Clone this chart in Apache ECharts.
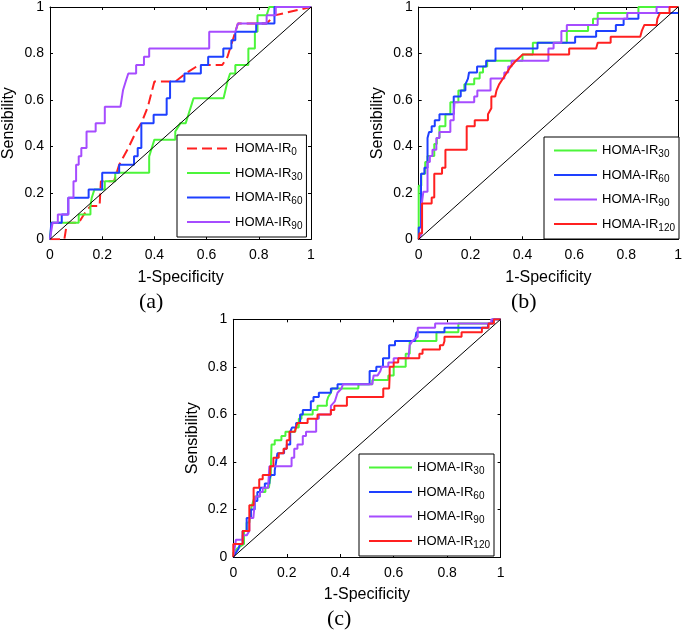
<!DOCTYPE html>
<html style="height: 100%; margin: 0; padding: 0;">
<head>
    <meta charset="utf-8">
    <title>ROC curves HOMA-IR</title>
    <script src="https://cdn.jsdelivr.net/npm/echarts@6/dist/echarts.min.js"></script>
    <style>
        body, html {
            width: 685px;
            height: 630px;
            margin: 0;
            padding: 0;
            overflow: hidden;
            background-color: #ffffff;
        }
        #main {
            width: 685px;
            height: 630px;
        }
    </style>
</head>
<body>
<div id="main"></div>
<script type="text/javascript">
    // axis ticks (both axes, all panels)
    var ticks = [0, 0.2, 0.4, 0.6, 0.8, 1];
    var diagonal = [[0, 0], [1, 1]];

    // panel (a): [1-specificity, sensitivity]
    var rocA0 = [[0,0],[0.055,0],[0.065,0.071],[0.11,0.071],[0.13,0.107],[0.155,0.143],[0.19,0.143],[0.195,0.25],[0.245,0.25],[0.265,0.321],[0.3,0.393],[0.33,0.464],[0.35,0.5],[0.375,0.571],[0.4,0.679],[0.48,0.679],[0.52,0.714],[0.57,0.75],[0.66,0.75],[0.68,0.786],[0.7,0.857],[0.72,0.929],[0.83,0.929],[0.86,0.964],[1,1]];
    var rocA30 = [[0,0],[0.006,0],[0.006,0.071],[0.11,0.071],[0.11,0.107],[0.155,0.107],[0.155,0.143],[0.16,0.179],[0.17,0.214],[0.21,0.214],[0.21,0.25],[0.25,0.25],[0.25,0.286],[0.38,0.286],[0.38,0.357],[0.39,0.393],[0.4,0.429],[0.48,0.429],[0.48,0.464],[0.5,0.5],[0.52,0.5],[0.53,0.536],[0.54,0.571],[0.55,0.607],[0.665,0.607],[0.68,0.679],[0.69,0.714],[0.71,0.714],[0.71,0.75],[0.76,0.75],[0.76,0.821],[0.785,0.821],[0.785,0.893],[0.795,0.893],[0.795,0.964],[0.83,0.964],[0.84,1],[1,1]];
    var rocA60 = [[0,0],[0.005,0],[0.005,0.071],[0.045,0.071],[0.045,0.107],[0.07,0.107],[0.07,0.179],[0.148,0.179],[0.148,0.214],[0.2,0.214],[0.2,0.286],[0.265,0.286],[0.265,0.321],[0.322,0.321],[0.322,0.357],[0.336,0.357],[0.336,0.393],[0.35,0.393],[0.35,0.5],[0.397,0.5],[0.397,0.536],[0.447,0.536],[0.447,0.607],[0.46,0.607],[0.46,0.679],[0.515,0.679],[0.515,0.714],[0.578,0.714],[0.578,0.75],[0.606,0.75],[0.606,0.786],[0.664,0.786],[0.664,0.821],[0.695,0.821],[0.695,0.857],[0.71,0.857],[0.71,0.893],[0.79,0.893],[0.79,0.929],[0.86,0.929],[0.86,1],[1,1]];
    var rocA90 = [[0,0],[0.005,0],[0.005,0.036],[0.01,0.036],[0.01,0.071],[0.03,0.071],[0.03,0.107],[0.07,0.107],[0.07,0.179],[0.09,0.179],[0.09,0.25],[0.1,0.25],[0.1,0.321],[0.11,0.321],[0.11,0.357],[0.12,0.357],[0.12,0.393],[0.14,0.393],[0.14,0.464],[0.175,0.464],[0.175,0.5],[0.21,0.5],[0.21,0.571],[0.27,0.571],[0.28,0.643],[0.29,0.679],[0.3,0.714],[0.33,0.714],[0.33,0.75],[0.36,0.75],[0.36,0.786],[0.38,0.786],[0.38,0.821],[0.61,0.821],[0.61,0.893],[0.71,0.893],[0.72,0.929],[0.83,0.929],[0.83,0.964],[0.865,0.964],[0.865,1],[1,1]];

    // panel (b)
    var rocB30 = [[0,0],[0,0.231],[0.01,0.231],[0.01,0.282],[0.025,0.282],[0.025,0.333],[0.034,0.333],[0.034,0.359],[0.06,0.359],[0.06,0.41],[0.07,0.41],[0.07,0.436],[0.08,0.436],[0.08,0.487],[0.103,0.487],[0.103,0.538],[0.122,0.538],[0.122,0.59],[0.153,0.59],[0.153,0.641],[0.176,0.641],[0.176,0.667],[0.214,0.667],[0.214,0.692],[0.235,0.692],[0.235,0.718],[0.248,0.718],[0.248,0.744],[0.264,0.744],[0.264,0.769],[0.4,0.769],[0.4,0.795],[0.44,0.795],[0.44,0.846],[0.571,0.846],[0.571,0.897],[0.653,0.897],[0.653,0.923],[0.672,0.923],[0.672,0.949],[0.69,0.949],[0.69,0.974],[0.847,0.974],[0.847,1],[1,1]];
    var rocB60 = [[0,0],[0,0.051],[0.009,0.051],[0.009,0.282],[0.022,0.282],[0.022,0.308],[0.034,0.308],[0.034,0.436],[0.04,0.436],[0.04,0.462],[0.05,0.462],[0.05,0.487],[0.062,0.487],[0.062,0.513],[0.08,0.513],[0.08,0.538],[0.135,0.538],[0.135,0.615],[0.162,0.615],[0.162,0.641],[0.18,0.641],[0.18,0.667],[0.19,0.692],[0.194,0.718],[0.225,0.718],[0.225,0.744],[0.26,0.744],[0.26,0.769],[0.296,0.769],[0.296,0.821],[0.458,0.821],[0.458,0.846],[0.603,0.846],[0.603,0.872],[0.684,0.872],[0.684,0.897],[0.76,0.897],[0.76,0.923],[0.79,0.923],[0.79,0.949],[0.847,0.949],[0.847,0.974],[1,0.974]];
    var rocB90 = [[0,0],[0.012,0.026],[0.012,0.154],[0.018,0.154],[0.018,0.205],[0.034,0.205],[0.034,0.333],[0.043,0.333],[0.043,0.359],[0.053,0.359],[0.053,0.385],[0.068,0.385],[0.068,0.436],[0.08,0.436],[0.08,0.462],[0.122,0.462],[0.122,0.513],[0.135,0.513],[0.135,0.538],[0.138,0.538],[0.138,0.59],[0.214,0.59],[0.214,0.615],[0.226,0.615],[0.226,0.641],[0.277,0.641],[0.277,0.692],[0.33,0.692],[0.33,0.718],[0.345,0.718],[0.345,0.744],[0.358,0.744],[0.358,0.769],[0.5,0.769],[0.5,0.821],[0.52,0.821],[0.52,0.846],[0.55,0.846],[0.55,0.897],[0.571,0.897],[0.571,0.923],[0.69,0.923],[0.69,0.949],[0.804,0.949],[0.804,0.974],[0.917,0.974],[0.917,1],[1,1]];
    var rocB120 = [[0,0],[0.003,0],[0.003,0.026],[0.013,0.026],[0.013,0.154],[0.05,0.154],[0.05,0.18],[0.06,0.18],[0.06,0.282],[0.09,0.282],[0.09,0.308],[0.103,0.308],[0.103,0.385],[0.185,0.385],[0.185,0.487],[0.216,0.487],[0.216,0.513],[0.267,0.513],[0.267,0.538],[0.28,0.564],[0.28,0.615],[0.295,0.615],[0.3,0.641],[0.31,0.667],[0.325,0.692],[0.34,0.718],[0.355,0.744],[0.375,0.769],[0.4,0.795],[0.58,0.795],[0.58,0.821],[0.684,0.821],[0.69,0.846],[0.74,0.846],[0.74,0.872],[0.854,0.872],[0.86,0.897],[0.87,0.923],[0.917,0.923],[0.92,0.949],[0.93,0.974],[0.967,0.974],[0.967,1],[1,1]];

    // panel (c)
    var rocC30 = [[0,0],[0,0.018],[0.015,0.036],[0.04,0.055],[0.04,0.109],[0.05,0.109],[0.05,0.145],[0.06,0.145],[0.066,0.2],[0.07,0.218],[0.08,0.255],[0.1,0.255],[0.1,0.273],[0.12,0.273],[0.12,0.291],[0.133,0.291],[0.14,0.345],[0.143,0.345],[0.143,0.473],[0.155,0.473],[0.155,0.491],[0.18,0.491],[0.18,0.509],[0.195,0.509],[0.195,0.527],[0.232,0.527],[0.232,0.545],[0.245,0.545],[0.245,0.582],[0.255,0.582],[0.255,0.6],[0.297,0.6],[0.297,0.618],[0.315,0.618],[0.315,0.636],[0.35,0.636],[0.35,0.655],[0.355,0.673],[0.365,0.691],[0.37,0.709],[0.468,0.709],[0.468,0.727],[0.52,0.727],[0.52,0.745],[0.58,0.745],[0.58,0.764],[0.6,0.764],[0.6,0.8],[0.645,0.8],[0.645,0.855],[0.66,0.855],[0.66,0.909],[0.76,0.909],[0.76,0.945],[0.842,0.945],[0.842,0.982],[0.97,0.982],[0.97,1],[1,1]];
    var rocC60 = [[0,0],[0.01,0.018],[0.02,0.036],[0.025,0.036],[0.025,0.055],[0.035,0.055],[0.035,0.109],[0.05,0.109],[0.05,0.164],[0.066,0.164],[0.066,0.2],[0.08,0.2],[0.08,0.236],[0.09,0.236],[0.09,0.273],[0.1,0.273],[0.1,0.291],[0.118,0.291],[0.118,0.309],[0.135,0.309],[0.135,0.327],[0.14,0.327],[0.14,0.345],[0.155,0.345],[0.155,0.364],[0.16,0.364],[0.16,0.4],[0.165,0.4],[0.165,0.436],[0.19,0.436],[0.19,0.455],[0.2,0.455],[0.2,0.473],[0.213,0.473],[0.213,0.527],[0.22,0.527],[0.22,0.545],[0.235,0.545],[0.235,0.564],[0.25,0.564],[0.25,0.6],[0.26,0.6],[0.26,0.618],[0.29,0.618],[0.29,0.655],[0.3,0.655],[0.3,0.673],[0.32,0.673],[0.32,0.691],[0.365,0.691],[0.365,0.709],[0.39,0.709],[0.39,0.727],[0.51,0.727],[0.51,0.782],[0.535,0.782],[0.535,0.8],[0.56,0.8],[0.56,0.836],[0.583,0.836],[0.583,0.891],[0.605,0.891],[0.605,0.909],[0.68,0.909],[0.685,0.945],[0.79,0.945],[0.79,0.964],[0.953,0.964],[0.953,0.982],[0.97,0.982],[0.97,1],[1,1]];
    var rocC90 = [[0,0],[0.005,0.036],[0.01,0.036],[0.01,0.073],[0.035,0.073],[0.035,0.091],[0.05,0.091],[0.06,0.109],[0.06,0.164],[0.075,0.164],[0.078,0.2],[0.08,0.236],[0.085,0.255],[0.1,0.255],[0.1,0.273],[0.11,0.273],[0.11,0.291],[0.13,0.291],[0.135,0.382],[0.218,0.382],[0.218,0.418],[0.228,0.418],[0.228,0.455],[0.24,0.455],[0.24,0.473],[0.26,0.473],[0.26,0.509],[0.272,0.509],[0.272,0.527],[0.31,0.527],[0.31,0.582],[0.32,0.582],[0.32,0.6],[0.365,0.6],[0.365,0.636],[0.38,0.655],[0.39,0.691],[0.405,0.709],[0.41,0.727],[0.52,0.727],[0.525,0.764],[0.54,0.764],[0.55,0.782],[0.555,0.8],[0.58,0.8],[0.58,0.818],[0.6,0.818],[0.6,0.836],[0.655,0.836],[0.66,0.891],[0.67,0.909],[0.69,0.927],[0.69,0.964],[0.755,0.964],[0.755,0.982],[0.965,0.982],[0.965,1],[1,1]];
    var rocC120 = [[0,0],[0,0.055],[0.035,0.055],[0.035,0.109],[0.06,0.109],[0.06,0.218],[0.076,0.218],[0.076,0.291],[0.097,0.291],[0.097,0.327],[0.11,0.327],[0.11,0.345],[0.138,0.345],[0.138,0.382],[0.15,0.382],[0.15,0.418],[0.17,0.418],[0.17,0.436],[0.188,0.436],[0.188,0.455],[0.2,0.455],[0.2,0.491],[0.21,0.491],[0.21,0.527],[0.23,0.527],[0.24,0.564],[0.278,0.564],[0.278,0.582],[0.315,0.582],[0.315,0.6],[0.365,0.6],[0.365,0.618],[0.378,0.618],[0.378,0.636],[0.425,0.636],[0.425,0.673],[0.561,0.673],[0.561,0.709],[0.583,0.709],[0.585,0.764],[0.585,0.8],[0.6,0.8],[0.6,0.818],[0.617,0.818],[0.617,0.836],[0.696,0.836],[0.696,0.855],[0.708,0.855],[0.708,0.873],[0.773,0.873],[0.773,0.891],[0.785,0.891],[0.79,0.909],[0.79,0.927],[0.854,0.927],[0.854,0.945],[0.93,0.945],[0.93,0.964],[0.955,0.964],[0.955,0.982],[0.975,0.982],[0.975,1],[1,1]];

    var RED = '#ff2020', GREEN = '#4cf53a', BLUE = '#1e40ff', PURPLE = '#a64cff';
    var FONT = 'Liberation Sans';

    var panels = [
        { grid: {left: 47.7, top: 4.7, width: 263.3, height: 234.6},
          legend: {left: 177, top: 135},
          caption: {text: '(a)', left: 139, top: 291},
          curves: [
              {name: 'HOMA-IR_0 a', data: rocA0, color: RED, dash: [10, 5]},
              {name: 'HOMA-IR_30 a', data: rocA30, color: GREEN},
              {name: 'HOMA-IR_60 a', data: rocA60, color: BLUE},
              {name: 'HOMA-IR_90 a', data: rocA90, color: PURPLE}
          ] },
        { grid: {left: 418.7, top: 4.7, width: 265, height: 234.6},
          legend: {left: 544, top: 137},
          caption: {text: '(b)', left: 511, top: 291},
          curves: [
              {name: 'HOMA-IR_30 b', data: rocB30, color: GREEN},
              {name: 'HOMA-IR_60 b', data: rocB60, color: BLUE},
              {name: 'HOMA-IR_90 b', data: rocB90, color: PURPLE},
              {name: 'HOMA-IR_120 b', data: rocB120, color: RED}
          ] },
        { grid: {left: 233.3, top: 319.3, width: 267.3, height: 237.7},
          legend: {left: 359, top: 454},
          caption: {text: '(c)', left: 327, top: 608},
          curves: [
              {name: 'HOMA-IR_30 c', data: rocC30, color: GREEN},
              {name: 'HOMA-IR_60 c', data: rocC60, color: BLUE},
              {name: 'HOMA-IR_90 c', data: rocC90, color: PURPLE},
              {name: 'HOMA-IR_120 c', data: rocC120, color: RED}
          ] }
    ];

    function makeAxis(gi, pos, main, isX) {
        return {
            type: 'value', gridIndex: gi, position: pos,
            min: ticks[0], max: ticks[ticks.length - 1], interval: ticks[1] - ticks[0],
            name: main ? (isX ? '1-Specificity' : 'Sensibility') : '',
            nameLocation: 'middle',
            nameGap: isX ? 30 : 33,
            nameTextStyle: {fontFamily: FONT, fontSize: 16, color: '#000'},
            axisLine: {show: true, onZero: false, lineStyle: {color: '#000', width: 1}},
            axisTick: {show: true, inside: true, length: 3, lineStyle: {color: '#000'}},
            axisLabel: {show: main, margin: isX ? 9 : 6, fontFamily: FONT, fontSize: 14, color: '#000'},
            splitLine: {show: false}
        };
    }

    var grids = [], xAxes = [], yAxes = [], legends = [], series = [], graphics = [];

    panels.forEach(function (p, i) {
        grids.push(p.grid);
        xAxes.push(makeAxis(i, 'bottom', true, true), makeAxis(i, 'top', false, true));
        yAxes.push(makeAxis(i, 'left', true, false), makeAxis(i, 'right', false, false));

        p.curves.forEach(function (c) {
            series.push({
                type: 'line', name: c.name, data: c.data,
                xAxisIndex: 2 * i, yAxisIndex: 2 * i,
                symbol: 'none', showSymbol: false, silent: true, animation: false,
                itemStyle: {color: c.color},
                lineStyle: {color: c.color, width: 2, type: c.dash || 'solid'}
            });
        });
        series.push({
            type: 'line', name: 'chance', data: diagonal,
            xAxisIndex: 2 * i, yAxisIndex: 2 * i,
            symbol: 'none', silent: true, animation: false,
            lineStyle: {color: '#000', width: 1}
        });

        legends.push({
            left: p.legend.left, top: p.legend.top,
            orient: 'vertical', selectedMode: false,
            data: p.curves.map(function (c) { return c.name; }),
            backgroundColor: '#fff', borderColor: '#000', borderWidth: 1,
            padding: [7, 4, 6, 9], itemGap: 9, itemWidth: 43, itemHeight: 14,
            // keep only the line in each legend key, no marker
            itemStyle: {color: 'rgba(0,0,0,0)', borderColor: 'rgba(0,0,0,0)', borderWidth: 0, opacity: 0},
            formatter: function (name) {
                var parts = name.split(' ')[0].split('_');
                return '{m|' + parts[0] + '}{s|' + parts[1] + '}';
            },
            textStyle: {
                color: '#000',
                rich: {
                    m: {fontFamily: FONT, fontSize: 13, color: '#000'},
                    s: {fontFamily: FONT, fontSize: 10, color: '#000', padding: [8, 0, 0, 0]}
                }
            }
        });

        graphics.push({
            type: 'text', left: p.caption.left, top: p.caption.top,
            style: {text: p.caption.text, font: '22px "Liberation Serif"', fill: '#000'}
        });
    });

    var myChart = echarts.init(document.getElementById('main'));
    myChart.setOption({
        backgroundColor: '#fff',
        animation: false,
        grid: grids,
        xAxis: xAxes,
        yAxis: yAxes,
        legend: legends,
        series: series,
        graphic: graphics
    });
</script>
</body>
</html>
